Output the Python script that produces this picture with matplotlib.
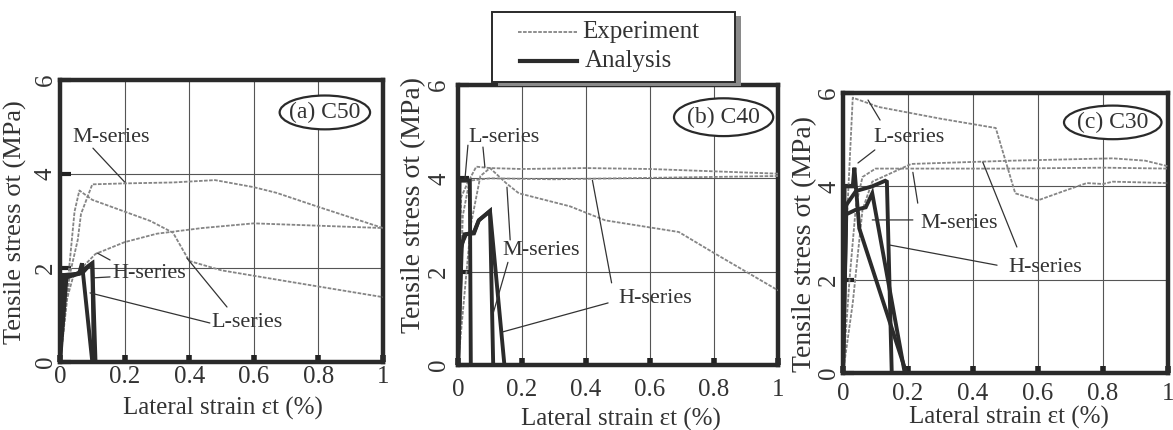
import matplotlib
matplotlib.use('Agg')
import matplotlib.pyplot as plt
from matplotlib.patches import Ellipse, Rectangle
from matplotlib.lines import Line2D

plt.rcParams['font.family'] = ['Liberation Serif', 'DejaVu Serif']

# ---------------- data ----------------
strain_ticks = [0, 0.2, 0.4, 0.6, 0.8, 1]
strain_ticklabels = ['0', '0.2', '0.4', '0.6', '0.8', '1']
stress_ticks = [0, 2, 4, 6]
stress_ticklabels = ['0', '2', '4', '6']
panel_titles = ['(a) C50', '(b) C40', '(c) C30']
legend_labels = ['Experiment', 'Analysis']

# (a) C50 - experiment
c50_exp_M_x = [0, 0.02, 0.03, 0.055, 0.065, 0.1, 0.2, 0.35, 0.48, 0.6, 0.67, 0.8, 1.0]
c50_exp_M_y = [0, 1.2, 1.85, 2.6, 3.15, 3.78, 3.8, 3.82, 3.87, 3.72, 3.6, 3.3, 2.85]
c50_exp_L_x = [0, 0.02, 0.045, 0.06, 0.1, 0.2, 0.28, 0.35, 0.4, 0.5, 0.7, 0.85, 1.0]
c50_exp_L_y = [0, 1.4, 3.2, 3.65, 3.45, 3.2, 3.0, 2.75, 2.15, 1.95, 1.72, 1.55, 1.38]
c50_exp_H_x = [0, 0.02, 0.04, 0.06, 0.11, 0.2, 0.3, 0.44, 0.6, 0.8, 1.0]
c50_exp_H_y = [0, 1.3, 1.8, 1.95, 2.3, 2.55, 2.73, 2.85, 2.95, 2.9, 2.85]
# (a) C50 - analysis
c50_ana_L_x = [0, 0.005, 0.04, 0.06, 0.068, 0.1, 0.2]
c50_ana_L_y = [0, 1.85, 1.85, 1.9, 2.1, 0, 0]
c50_ana_M_x = [0, 0.01, 0.06, 0.08, 0.1, 0.105]
c50_ana_M_y = [0, 1.85, 1.88, 2.0, 2.1, 0]
c50_ana_H_x = [0, 0.02, 0.07, 0.09, 0.1, 0.11, 0.2]
c50_ana_H_y = [0, 1.8, 1.9, 2.05, 2.1, 0, 0]

# (b) C40 - experiment
c40_exp_L_x = [0, 0.01, 0.03, 0.057, 0.1, 0.2, 0.4, 0.6, 0.8, 1.0]
c40_exp_L_y = [0, 3.6, 3.9, 4.25, 4.22, 4.2, 4.22, 4.2, 4.15, 4.1]
c40_exp_M_x = [0, 0.02, 0.04, 0.07, 0.1, 0.15, 0.19, 0.35, 0.46, 0.69, 0.8, 1.0]
c40_exp_M_y = [0, 1.5, 3.0, 4.05, 4.22, 3.9, 3.68, 3.4, 3.1, 2.85, 2.4, 1.6]
c40_exp_H_x = [0, 0.015, 0.036, 0.1, 0.3, 0.5, 0.7, 1.0]
c40_exp_H_y = [0, 3.2, 3.95, 4.0, 3.98, 4.0, 4.02, 4.05]
# (b) C40 - analysis
c40_ana_L_x = [0, 0.005, 0.02, 0.037, 0.04]
c40_ana_L_y = [0, 3.95, 3.95, 3.95, 0]
c40_ana_M_x = [0, 0.01, 0.02, 0.05, 0.065, 0.1, 0.11]
c40_ana_M_y = [0, 2.5, 2.8, 2.82, 3.1, 3.3, 0]
c40_ana_H_x = [0, 0.012, 0.025, 0.05, 0.065, 0.1, 0.145]
c40_ana_H_y = [0, 2.6, 2.8, 2.85, 3.1, 3.3, 0]

# (c) C30 - experiment
c30_exp_L_x = [0, 0.01, 0.03, 0.11, 0.3, 0.47, 0.53, 0.6, 0.68, 0.75, 0.8, 0.83, 1.0]
c30_exp_L_y = [0, 3.0, 5.9, 5.7, 5.45, 5.25, 3.85, 3.7, 3.9, 4.07, 4.05, 4.1, 4.07]
c30_exp_M_x = [0, 0.02, 0.04, 0.06, 0.1, 0.2, 0.5, 0.8, 1.0]
c30_exp_M_y = [0, 2.0, 3.6, 4.2, 4.38, 4.38, 4.38, 4.4, 4.38]
c30_exp_H_x = [0, 0.03, 0.06, 0.09, 0.21, 0.52, 0.83, 0.93, 1.0]
c30_exp_H_y = [0, 1.5, 3.5, 4.1, 4.48, 4.55, 4.6, 4.55, 4.43]
# (c) C30 - analysis
c30_ana_L_x = [0, 0.005, 0.03, 0.035, 0.05, 0.195]
c30_ana_L_y = [0, 4.0, 4.0, 4.4, 3.1, 0]
c30_ana_M_x = [0, 0.01, 0.04, 0.07, 0.09, 0.19]
c30_ana_M_y = [0, 3.4, 3.5, 3.55, 3.85, 0]
c30_ana_H_x = [0, 0.01, 0.04, 0.09, 0.13, 0.135, 0.15, 0.2]
c30_ana_H_y = [0, 3.6, 3.9, 4.0, 4.12, 4.1, 0, 0]

exp_series = [
    [(c50_exp_M_x, c50_exp_M_y), (c50_exp_L_x, c50_exp_L_y), (c50_exp_H_x, c50_exp_H_y)],
    [(c40_exp_L_x, c40_exp_L_y), (c40_exp_M_x, c40_exp_M_y), (c40_exp_H_x, c40_exp_H_y)],
    [(c30_exp_L_x, c30_exp_L_y), (c30_exp_M_x, c30_exp_M_y), (c30_exp_H_x, c30_exp_H_y)],
]
ana_series = [
    [(c50_ana_L_x, c50_ana_L_y), (c50_ana_M_x, c50_ana_M_y), (c50_ana_H_x, c50_ana_H_y)],
    [(c40_ana_L_x, c40_ana_L_y), (c40_ana_M_x, c40_ana_M_y), (c40_ana_H_x, c40_ana_H_y)],
    [(c30_ana_L_x, c30_ana_L_y), (c30_ana_M_x, c30_ana_M_y), (c30_ana_H_x, c30_ana_H_y)],
]

# series labels: (text, x, y, leaders[(x0,y0,x1,y1), ...])
series_labels = [
    [('M-series', 0.037, 4.77, [(0.102, 4.55, 0.2, 3.83)]),
     ('H-series', 0.161, 1.89, [(0.155, 2.17, 0.115, 2.32), (0.155, 1.81, 0.102, 1.79)]),
     ('L-series', 0.47, 0.83, [(0.464, 0.83, 0.093, 1.47), (0.517, 1.17, 0.393, 2.21)])],
    [('L-series', 0.031, 4.88, [(0.031, 4.71, 0.022, 4.0), (0.078, 4.67, 0.084, 4.24)]),
     ('M-series', 0.14, 2.46, [(0.163, 2.68, 0.153, 3.81), (0.156, 2.2, 0.11, 1.11)]),
     ('H-series', 0.5, 1.43, [(0.48, 1.76, 0.42, 3.96), (0.469, 1.33, 0.14, 0.71)])],
    [('L-series', 0.092, 5.05, [(0.114, 5.42, 0.077, 5.85), (0.098, 4.78, 0.046, 4.5)]),
     ('M-series', 0.237, 3.21, [(0.23, 3.64, 0.215, 4.3), (0.215, 3.28, 0.09, 3.28)]),
     ('H-series', 0.508, 2.27, [(0.535, 2.7, 0.43, 4.52), (0.474, 2.31, 0.145, 2.74)])],
]

# ---------------- layout (pixels) ----------------
W, H = 1173, 430
panels_px = [(60, 383, 80, 362), (458, 778, 85, 365), (843, 1168, 93, 373)]
xtick_pad = [3, 10, 7]
ytick_pad = [2.5, 5.5, 2]
ylabel_size = [19, 20, 20]
xlabel_pos = [(0.505, -0.163), (0.51, -0.196), (0.51, -0.157)]
ylabel_pos = [(-0.137, 0.496), (-0.1375, 0.57), (-0.117, 0.46)]
ellipse_pos = [(0.82, 0.885, 0.28, 0.12), (0.83, 0.885, 0.31, 0.135), (0.83, 0.895, 0.30, 0.12)]

EXP_C = '#858585'
ANA_C = '#2b2b2b'
INK = '#333333'
EXP_LS = (0, (2, 0.8))

fig = plt.figure(figsize=(W / 100, H / 100), dpi=100)
fig.patch.set_facecolor('white')

for i, (l, r, t, b) in enumerate(panels_px):
    ax = fig.add_axes([l / W, (H - b) / H, (r - l) / W, (b - t) / H])
    ax.set_xlim(0, 1)
    ax.set_ylim(0, 6)
    ax.grid(True, color='#555555', lw=0.8)
    ax.set_axisbelow(True)
    for sp in ax.spines.values():
        sp.set_linewidth(3.2)
        sp.set_color('#2a2a2a')
    ax.set_xticks(strain_ticks)
    ax.set_xticklabels(strain_ticklabels, fontsize=18, color=INK)
    ax.set_yticks(stress_ticks)
    ax.set_yticklabels(stress_ticklabels, fontsize=18, color=INK, rotation=90, va='center')
    ax.tick_params(axis='x', direction='in', length=5, width=4, color='#222222', pad=xtick_pad[i])
    ax.tick_params(axis='y', direction='in', length=8, width=3, color='#222222', pad=ytick_pad[i])

    for xs, ys in exp_series[i]:
        ax.plot(xs, ys, color=EXP_C, lw=1.3, ls=EXP_LS, zorder=3)
    for xs, ys in ana_series[i]:
        ax.plot(xs, ys, color=ANA_C, lw=2.8, solid_joinstyle='miter', zorder=4)

    for text, tx, ty, leaders in series_labels[i]:
        ax.text(tx, ty, text, fontsize=16, color=INK, ha='left', va='center', zorder=6)
        for x0, y0, x1, y1 in leaders:
            ax.annotate('', xy=(x1, y1), xytext=(x0, y0),
                        arrowprops=dict(arrowstyle='-', lw=0.9, color='#333333',
                                        shrinkA=0, shrinkB=0), zorder=5)

    ex, ey, ew, eh = ellipse_pos[i]
    ax.add_patch(Ellipse((ex, ey), ew, eh, transform=ax.transAxes, facecolor='white',
                         edgecolor='#2a2a2a', lw=1.6, zorder=6))
    ax.text(ex, ey, panel_titles[i], transform=ax.transAxes, fontsize=17, color=INK,
            ha='center', va='center', zorder=7)

    ax.set_xlabel('Lateral strain εt (%)', fontsize=18, color=INK, va='center')
    ax.xaxis.set_label_coords(*xlabel_pos[i])
    ax.set_ylabel('Tensile stress σt (MPa)', fontsize=ylabel_size[i], color=INK, va='center')
    ax.yaxis.set_label_coords(*ylabel_pos[i])

# ---------------- legend box (figure level) ----------------
def fx(px):
    return px / W

def fy(py):
    return (H - py) / H

bl, br, bt, bb = 492, 735, 12, 82
fig.patches.append(Rectangle((fx(bl + 6), fy(bb + 4)), fx(br - bl), (bb - bt) / H,
                             transform=fig.transFigure, facecolor='#8a8a8a',
                             edgecolor='none', zorder=10))
fig.patches.append(Rectangle((fx(bl), fy(bb)), fx(br - bl), (bb - bt) / H,
                             transform=fig.transFigure, facecolor='white',
                             edgecolor='#2a2a2a', lw=1.4, zorder=11))
fig.lines.append(Line2D([fx(518), fx(577)], [fy(32), fy(32)], transform=fig.transFigure,
                        color=EXP_C, lw=1.3, ls=EXP_LS, zorder=12))
fig.lines.append(Line2D([fx(520), fx(577)], [fy(61), fy(61)], transform=fig.transFigure,
                        color=ANA_C, lw=3.0, zorder=12))
fig.text(fx(582), fy(32), legend_labels[0], fontsize=18, color=INK, ha='left', va='center', zorder=13)
fig.text(fx(585), fy(61), legend_labels[1], fontsize=18, color=INK, ha='left', va='center', zorder=13)

fig.savefig('out.png', dpi=100, facecolor='white')
